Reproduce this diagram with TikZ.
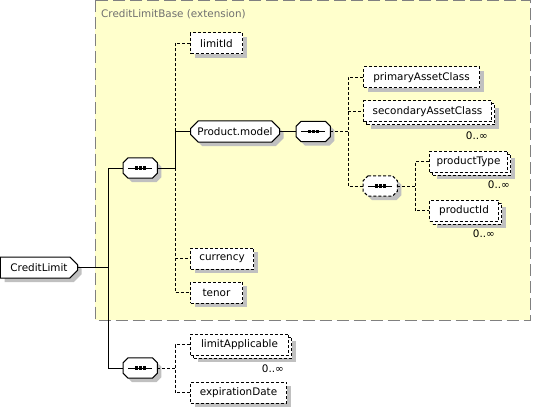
\documentclass[tikz,border=0pt]{standalone}
\usepackage{fontspec}
\setmainfont{DejaVu Sans}
\usetikzlibrary{positioning, shapes.misc, shadows}
\definecolor{extfill}{RGB}{255,255,204}
\definecolor{extline}{RGB}{128,128,128}
\definecolor{extlabel}{RGB}{112,112,112}
\definecolor{shade}{RGB}{192,192,192}

\begin{document}
\begin{tikzpicture}[x=1pt, y=-1pt,
  font=\fontsize{10.4}{12}\selectfont,
  shadowed/.style={drop shadow={shadow xshift=4pt, shadow yshift=-4pt, fill=shade, opacity=1}},
  box/.style={draw, fill=white, line width=1pt, dash pattern=on 3pt off 2pt,
              minimum height=21pt, inner sep=0pt, anchor=west},
  elem/.style={box, shadowed},
  group/.style={elem, solid, chamfered rectangle, chamfered rectangle xsep=4pt},
  seqbox/.style={anchor=west, inner sep=0pt, minimum width=34pt, minimum height=20pt},
  occ/.style={inner sep=0pt, anchor=north east},
  link/.style={line width=1pt},
  opt/.style={line width=1pt, dash pattern=on 3pt off 2pt}
]
  \useasboundingbox (0,0) rectangle (535,409);

  % extension area
  \draw[extline, fill=extfill, line width=1pt, dash pattern=on 12pt off 5pt] (95,0.5) rectangle (530,320);
  \node[text=extlabel, anchor=west, inner sep=0pt] (extLbl) at (101,14) {CreditLimitBase (extension)};

  % junction columns
  \coordinate (j1) at (108,0);
  \coordinate (j2) at (175,0);
  \coordinate (j3) at (348,0);
  \coordinate (j4) at (415,0);

  % elements
  \node[group, chamfered rectangle corners={north east, south east}, minimum width=77pt] (root) at (0,267.5) {CreditLimit};
  \node[seqbox] (seqA) at (123,168) {};
  \node[elem, minimum width=52pt] (limitId) at (190,43.5) {limitId};
  \node[group, minimum width=89pt] (pm) at (190,131.5) {Product.model};
  \node[elem, minimum width=63pt] (currency) at (190,258.5) {currency};
  \node[elem, minimum width=52pt] (tenor) at (190,292.5) {tenor};

  \node[seqbox] (seqB) at (296,131.5) {};
  \node[elem, minimum width=116pt] (prim) at (363,77.5) {primaryAssetClass};
  \node[elem, minimum width=128pt] (sacBack) at (366,114.5) {};
  \node[box, minimum width=128pt] (sac) at (363,111.5) {secondaryAssetClass};
  \node[occ, below left=9pt and 4pt of sac.south east] (sacOcc) {0..∞};
  \node[seqbox] (seqC) at (363,186) {};

  \node[elem, minimum width=78pt] (ptypeBack) at (432,164.5) {};
  \node[box, minimum width=78pt] (ptype) at (429,161.5) {productType};
  \node[occ, below left=8pt and -2pt of ptype.south east] (ptypeOcc) {0..∞};
  \node[elem, minimum width=69pt] (pidBack) at (432,213.5) {};
  \node[box, minimum width=69pt] (pid) at (429,210.5) {productId};
  \node[occ, below left=8pt and 4pt of pid.south east] (pidOcc) {0..∞};

  \node[seqbox] (seqD) at (123,368) {};
  \node[elem, minimum width=98pt] (limAppBack) at (193,347.5) {};
  \node[box, minimum width=98pt] (limApp) at (190,344.5) {limitApplicable};
  \node[occ, below left=9pt and 5pt of limApp.south east] (limAppOcc) {0..∞};
  \node[elem, minimum width=96pt] (expDate) at (190,392.5) {expirationDate};

  % sequence compositors
  \foreach \c/\s in {seqA/link, seqB/link, seqC/opt, seqD/link} {
    \draw[\s, fill=white, shadowed]
      ([xshift=5pt]\c.north west) -- ([xshift=-5pt]\c.north east) -- ([yshift=-5pt]\c.north east)
      -- ([yshift=5pt]\c.south east) -- ([xshift=-5pt]\c.south east) -- ([xshift=5pt]\c.south west)
      -- ([yshift=5pt]\c.south west) -- ([yshift=-5pt]\c.north west) -- cycle;
    \draw[link] ([xshift=5pt]\c.west) -- ([xshift=-5pt]\c.east);
    \foreach \d in {-4,0,4}
      \fill[black] ([xshift=\d pt]\c.center) +(-1.6pt,-1.6pt) rectangle +(1.6pt,1.6pt);
  }

  % connectors
  \draw[link] (root.east) -- (root.east -| j1) |- (seqA.west);
  \draw[link] (root.east -| j1) |- (seqD.west);

  \draw[link] (seqA.east) -- (seqA.east -| j2) -- (pm.west -| j2) -- (pm.west);
  \draw[opt] (pm.west -| j2) |- (limitId.west);
  \draw[opt] (seqA.east -| j2) -- (tenor.west -| j2) -- (tenor.west);
  \draw[opt] (currency.west -| j2) -- (currency.west);

  \draw[link] (pm.east) -- (seqB.west);
  \draw[opt] (seqB.east) -- (seqB.east -| j3);
  \draw[opt] (prim.west) -| (seqC.west -| j3) -- (seqC.west);
  \draw[opt] (sac.west -| j3) -- (sac.west);

  \draw[opt] (seqC.east) -- (seqC.east -| j4);
  \draw[opt] (ptype.west) -| (pid.west -| j4) -- (pid.west);

  \draw[opt] (seqD.east) -- (seqD.east -| j2);
  \draw[opt] (limApp.west) -| (expDate.west -| j2) -- (expDate.west);
\end{tikzpicture}
\end{document}
